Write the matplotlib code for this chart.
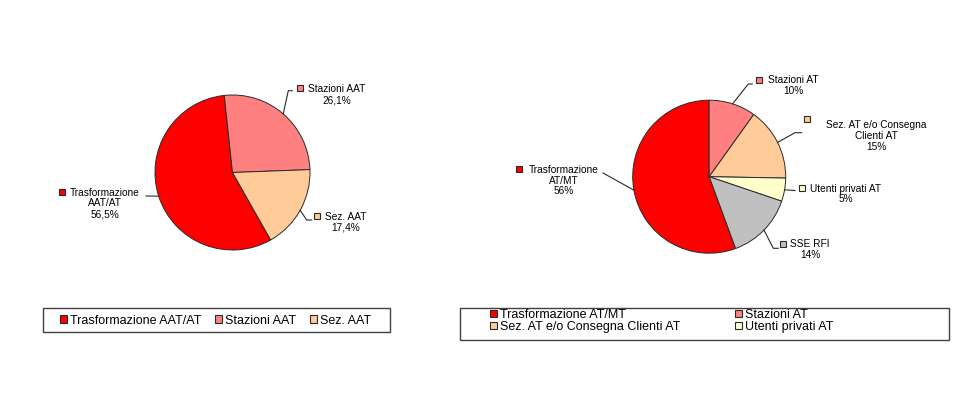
import numpy as np
import matplotlib.pyplot as plt
from matplotlib.patches import Patch, Rectangle

plt.rcParams['font.family'] = ['Liberation Sans', 'DejaVu Sans']

W, H = 973, 398

# left chart: AAT
aat_names = ["Trasformazione\nAAT/AT", "Stazioni AAT", "Sez. AAT"]
aat_values = [56.5, 26.1, 17.4]
aat_colors = ["#FF0000", "#FF8080", "#FFCC99"]

# right chart: AT
at_names = ["Trasformazione\nAT/MT", "Stazioni AT", "Sez. AT e/o Consegna\nClienti AT",
            "Utenti privati AT", "SSE RFI"]
at_values = [55.6, 9.9, 15.4, 4.9, 14.2]
at_colors = ["#FF0000", "#FF8080", "#FFCC99", "#FFFFCC", "#C0C0C0"]
at_legend_count = 4   # SSE RFI does not fit in the legend box

EDGE = "#2a2a2a"

fig = plt.figure(figsize=(W / 100, H / 100), dpi=100)
fig.patch.set_facecolor("white")


def pie_axes(cx, cy, r, k=3.2):
    # axes where one data unit equals r pixels, pie centred at (cx, cy) px
    ax = fig.add_axes([(cx - k * r) / W, (H - cy - k * r) / H, 2 * k * r / W, 2 * k * r / H])
    ax.axis("off")
    return ax, k


def draw_pie(cx, cy, r, values, colors, names, fmt, start, text_pos, key_pos, elbows):
    ax, k = pie_axes(cx, cy, r)
    wedges, _ = ax.pie(values, colors=colors, startangle=start, counterclock=False,
                       radius=1, wedgeprops=dict(edgecolor=EDGE, linewidth=0.7))
    ax.set_xlim(-k, k)
    ax.set_ylim(-k, k)

    def d(p):
        return ((p[0] - cx) / r, (cy - p[1]) / r)

    for w, name, v, c, tp, kp, el in zip(wedges, names, values, colors,
                                         text_pos, key_pos, elbows):
        mid = np.deg2rad((w.theta1 + w.theta2) / 2)
        xs = [np.cos(mid)] + [d(p)[0] for p in el]
        ys = [np.sin(mid)] + [d(p)[1] for p in el]
        ax.plot(xs, ys, color=EDGE, lw=0.8, clip_on=False)
        tx, ty = d(tp)
        ax.text(tx, ty, name + "\n" + fmt(v), ha="center", va="center",
                fontsize=7.3, linespacing=1.12, color="black")
        kx, ky = d(kp)
        ax.plot([kx], [ky], marker="s", ms=3.8, mfc=c, mec=EDGE, mew=0.8,
                clip_on=False)
    return wedges


def fig_rect(x0, y0, x1, y1):
    fig.add_artist(Rectangle((x0 / W, 1 - y1 / H), (x1 - x0) / W, (y1 - y0) / H,
                             transform=fig.transFigure, fill=False,
                             edgecolor="#404040", lw=1.0))


draw_pie(232.5, 172.5, 77.5, aat_values, aat_colors, aat_names,
         lambda v: f"{v:.1f}".replace(".", ",") + "%", 299.5,
         text_pos=[(105, 203.5), (337, 94.6), (345.5, 222)],
         key_pos=[(61.7, 192.3), (300, 88.3), (316.5, 215.5)],
         elbows=[[(146, 196)],
                 [(288.3, 90.7), (292.3, 90.7)],
                 [(306.7, 220), (311.7, 220)]])

draw_pie(709.2, 176.7, 76.5, at_values, at_colors, at_names,
         lambda v: f"{v:.0f}%", 290.2,
         text_pos=[(564, 180.5), (793, 85.3), (876, 136.3), (846, 194), (810, 249.3)],
         key_pos=[(519, 169), (759, 79.5), (807, 118.5), (801.7, 188), (782.7, 243.5)],
         elbows=[[(603, 173)],
                 [(748.3, 84), (752.3, 84)],
                 [(795, 132.7), (801.7, 132.7)],
                 [(795, 190.5)],
                 [(773.3, 248.3), (778.3, 248.3)]])

# legends
leg_kw = dict(frameon=False, handlelength=0.55, handleheight=0.55, handletextpad=0.25,
              borderpad=0, borderaxespad=0, fontsize=9, loc="center left")

h1 = [Patch(facecolor=c, edgecolor=EDGE, lw=0.8) for c in aat_colors]
fig.legend(h1, [n.replace("\n", " ") for n in aat_names], ncol=3, columnspacing=1.1,
           bbox_to_anchor=(60 / W, 1 - 320.5 / H), **leg_kw)
fig_rect(43, 308, 390, 332)

# two columns filled row by row
order = [0, 2, 1, 3][:at_legend_count]
h2 = [Patch(facecolor=at_colors[i], edgecolor=EDGE, lw=0.8) for i in order]
fig.legend(h2, [at_names[i].replace("\n", " ") for i in order], ncol=2,
           columnspacing=4.4, labelspacing=0.0,
           bbox_to_anchor=(490 / W, 1 - 321 / H), **leg_kw)
fig_rect(460, 308, 949, 340)

fig.savefig("out.png", dpi=100)
